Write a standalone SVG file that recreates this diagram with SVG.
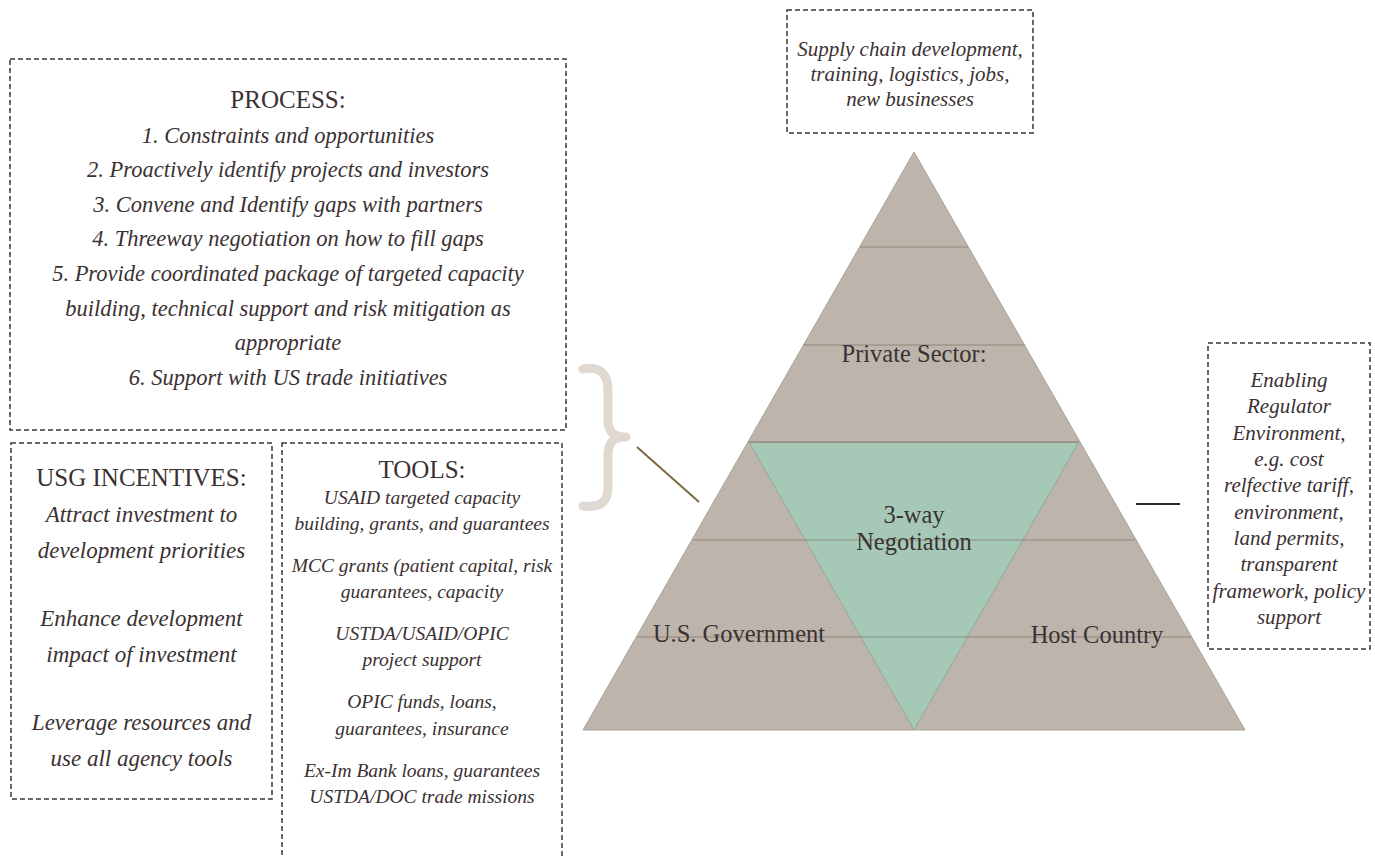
<svg xmlns="http://www.w3.org/2000/svg" width="1375" height="858" viewBox="0 0 1375 858">
  <style>
    .box { fill: none; stroke: #3a3434; stroke-width: 1.5; stroke-dasharray: 5 3; }
    text { font-family: "Liberation Serif", "Times New Roman", serif; fill: #3b3132; text-anchor: middle; }
    .it { font-style: italic; }
    .hd { font-size: 25px; }
    .proc { font-size: 22.5px; }
    .usg { font-size: 23px; }
    .tool { font-size: 19.5px; }
    .side { font-size: 21px; }
    .lbl { font-size: 24.5px; }
    .band { stroke: #6e6152; stroke-opacity: 0.55; stroke-width: 1.2; }
  </style>

  <!-- process box -->
  <g id="process">
    <rect class="box" x="10" y="59" width="556" height="371"/>
    <text class="hd" x="288" y="108">PROCESS:</text>
    <text class="proc it" x="288" y="143">1. Constraints and opportunities</text>
    <text class="proc it" x="288" y="177">2. Proactively identify projects and investors</text>
    <text class="proc it" x="288" y="212">3. Convene and Identify gaps with partners</text>
    <text class="proc it" x="288" y="246">4. Threeway negotiation on how to fill gaps</text>
    <text class="proc it" x="288" y="281">5. Provide coordinated package of targeted capacity</text>
    <text class="proc it" x="288" y="316">building, technical support and risk mitigation as</text>
    <text class="proc it" x="288" y="350">appropriate</text>
    <text class="proc it" x="288" y="385">6. Support with US trade initiatives</text>
  </g>

  <!-- incentives box -->
  <g id="usg-incentives">
    <rect class="box" x="11" y="443" width="261" height="356"/>
    <text class="hd" x="141.5" y="486">USG INCENTIVES:</text>
    <text class="usg it" x="141.5" y="522">Attract investment to</text>
    <text class="usg it" x="141.5" y="558">development priorities</text>
    <text class="usg it" x="141.5" y="626">Enhance development</text>
    <text class="usg it" x="141.5" y="662">impact of investment</text>
    <text class="usg it" x="141.5" y="730">Leverage resources and</text>
    <text class="usg it" x="141.5" y="766">use all agency tools</text>
  </g>

  <!-- tools box (runs past the lower edge) -->
  <g id="tools">
    <rect class="box" x="282" y="443" width="280" height="430"/>
    <text class="hd" x="422" y="478">TOOLS:</text>
    <text class="tool it" x="422" y="504">USAID targeted capacity</text>
    <text class="tool it" x="422" y="530">building, grants, and guarantees</text>
    <text class="tool it" x="422" y="572">MCC grants (patient capital, risk</text>
    <text class="tool it" x="422" y="598">guarantees, capacity</text>
    <text class="tool it" x="422" y="640">USTDA/USAID/OPIC</text>
    <text class="tool it" x="422" y="666">project support</text>
    <text class="tool it" x="422" y="708">OPIC funds, loans,</text>
    <text class="tool it" x="422" y="735">guarantees, insurance</text>
    <text class="tool it" x="422" y="777">Ex-Im Bank loans, guarantees</text>
    <text class="tool it" x="422" y="803">USTDA/DOC trade missions</text>
  </g>

  <!-- outcomes box above the pyramid -->
  <g id="outcomes">
    <rect class="box" x="787" y="10" width="246" height="123"/>
    <text class="side it" x="910" y="56">Supply chain development,</text>
    <text class="side it" x="910" y="81">training, logistics, jobs,</text>
    <text class="side it" x="910" y="106">new businesses</text>
  </g>

  <!-- enabling environment box -->
  <g id="enabling">
    <rect class="box" x="1208" y="343" width="162" height="306"/>
    <text class="side it" x="1289" y="387">Enabling</text>
    <text class="side it" x="1289" y="413">Regulator</text>
    <text class="side it" x="1289" y="440">Environment,</text>
    <text class="side it" x="1289" y="466">e.g. cost</text>
    <text class="side it" x="1289" y="492">relfective tariff,</text>
    <text class="side it" x="1289" y="519">environment,</text>
    <text class="side it" x="1289" y="545">land permits,</text>
    <text class="side it" x="1289" y="571">transparent</text>
    <text class="side it" x="1289" y="598">framework, policy</text>
    <text class="side it" x="1289" y="624">support</text>
  </g>

  <!-- brace grouping the left panels -->
  <g id="brace">
    <path d="M 583,369 C 600,366 608,374 608,390 L 608,420 C 608,432 614,437 626,437 C 614,437 608,442 608,455 L 608,488 C 608,502 600,508 583,506" fill="none" stroke="#dfd9d2" stroke-width="9" stroke-linecap="round" stroke-linejoin="round"/>
  </g>

  <!-- pyramid -->
  <g id="pyramid">
    <polygon points="914,152 1245,730 583,730" fill="#bdb5ab" stroke="#aaa39a" stroke-width="1"/>
    <polygon points="749,442 1079,442 914,730" fill="#a6c8b7" stroke="#8fa99b" stroke-width="1"/>
    <line class="band" x1="860" y1="247" x2="968" y2="247"/>
    <line class="band" x1="803" y1="345" x2="1025" y2="345"/>
    <line x1="749" y1="442" x2="1079" y2="442" stroke="#9a938a" stroke-width="2"/>
    <line class="band" x1="693" y1="540" x2="1135" y2="540"/>
    <line class="band" x1="637" y1="637" x2="1191" y2="637"/>
  </g>

  <g id="private-sector">
    <text class="lbl" x="914" y="362">Private Sector:</text>
  </g>
  <g id="negotiation">
    <text class="lbl" x="914" y="523">3-way</text>
    <text class="lbl" x="914" y="550">Negotiation</text>
  </g>
  <g id="us-government">
    <text class="lbl" x="739" y="642">U.S. Government</text>
  </g>
  <g id="host-country">
    <text class="lbl" x="1097" y="643">Host Country</text>
  </g>

  <!-- connectors -->
  <g id="connectors">
    <line x1="637" y1="447" x2="699" y2="502" stroke="#7b6a3e" stroke-width="2"/>
    <line x1="1136" y1="504" x2="1180" y2="504" stroke="#2e2a2a" stroke-width="2"/>
  </g>
</svg>
